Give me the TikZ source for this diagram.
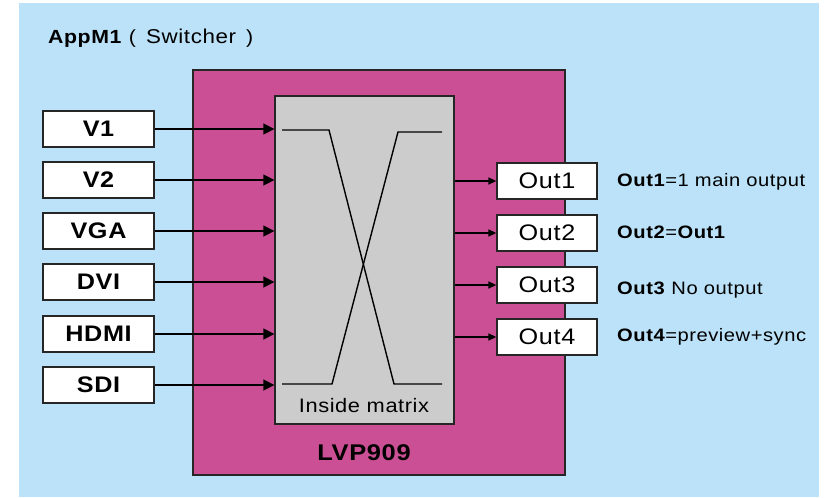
\documentclass[tikz,border=0pt]{standalone}
\usepackage{fontspec}
\setmainfont{Liberation Sans}[FakeStretch=1.12,LetterSpace=3]
\usetikzlibrary{arrows.meta}
\definecolor{bgblue}{RGB}{187,226,248}
\definecolor{magbox}{RGB}{202,79,148}
\definecolor{matgray}{RGB}{204,204,204}
\tikzset{
  inbox/.style={draw=black!85,line width=1.3pt,fill=white,minimum width=111pt,minimum height=36pt,inner sep=0pt,font=\fontsize{22.5}{24}\selectfont\bfseries},
  outbox/.style={draw=black!85,line width=1.3pt,fill=white,minimum width=100pt,minimum height=36pt,inner sep=0pt,font=\fontsize{22.5}{24}\selectfont},
  note/.style={anchor=west,inner sep=0pt,font=\fontsize{18}{20}\selectfont},
  inarr/.style={line width=1.5pt,-{Triangle[length=11pt,width=11pt]}},
  outarr/.style={line width=1.5pt,-{Triangle[length=8pt,width=7pt]}},
  wire/.style={line width=1.4pt}
}
\begin{document}
\begin{tikzpicture}[x=1pt,y=-1pt]
\useasboundingbox (0,0) rectangle (825,498);
\fill[bgblue] (19,3) rectangle (819,497);
\node[anchor=west,inner sep=0pt,font=\fontsize{19}{20}\selectfont] (title) at (48,38.5) {\textbf{AppM1}\hspace{7pt}(\hspace{10pt}{\fontsize{20}{20}\selectfont Switcher}\hspace{10pt})};
\node[draw=black!85,line width=1.3pt,fill=magbox,minimum width=372pt,minimum height=405pt,inner sep=0pt] (lvp) at (379,272.5) {};
\node[draw=black!85,line width=1.3pt,fill=matgray,minimum width=179pt,minimum height=328pt,inner sep=0pt] (gray) at (364.5,260) {};
\node[inner sep=0pt,font=\fontsize{19.5}{21}\selectfont] (im) at (364,406) {Inside matrix};
\node[inner sep=0pt,font=\fontsize{22.7}{24}\selectfont\bfseries] (lvpl) at (364,453) {LVP909};
\draw[wire] (282,130) -- (329,130) -- (394,384) -- (442,384);
\draw[wire] (282,384) -- (332,384) -- (398,132) -- (442,132);
\node[inbox] (v1) at (98.5,129) {V1};
\node[inbox] (v2) at (98.5,180) {V2};
\node[inbox] (vga) at (98.5,231) {VGA};
\node[inbox] (dvi) at (98.5,282) {DVI};
\node[inbox] (hdmi) at (98.5,334) {HDMI};
\node[inbox] (sdi) at (98.5,385) {SDI};
\foreach \n in {v1,v2,vga,dvi,hdmi,sdi}
  \draw[inarr] (\n.east) -- (\n.east -| gray.west);
\node[outbox] (o1) at (547,181) {Out1};
\node[outbox] (o2) at (547,233) {Out2};
\node[outbox] (o3) at (547,285) {Out3};
\node[outbox] (o4) at (547,337) {Out4};
\foreach \n in {o1,o2,o3,o4}
  \draw[outarr] (\n.west -| gray.east) -- (\n.west);
\node[note] (l1) at (617,182) {\textbf{Out1}=1 main output};
\node[note] (l2) at (617,232) {\textbf{Out2}=\textbf{Out1}};
\node[note] (l3) at (617,290) {\textbf{Out3} No output};
\node[note] (l4) at (617,337) {\textbf{Out4}=preview+sync};
\end{tikzpicture}
\end{document}
